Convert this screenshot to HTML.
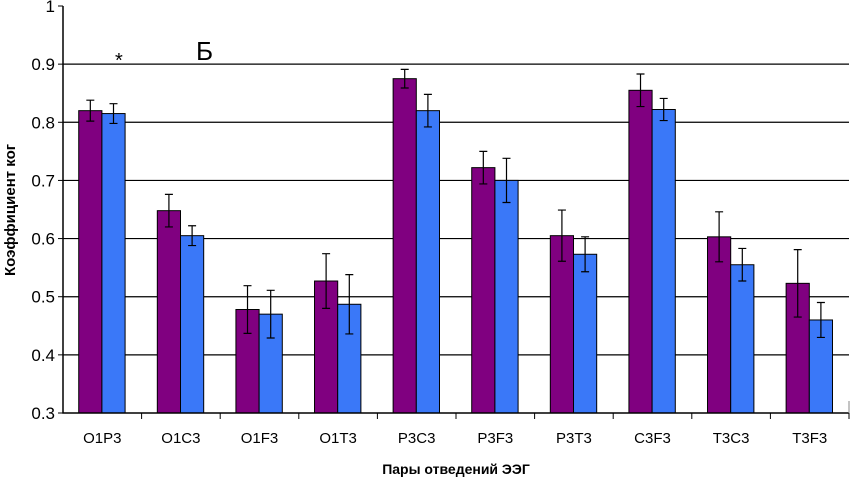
<!DOCTYPE html>
<html><head><meta charset="utf-8"><style>
html,body{margin:0;padding:0;background:#fff;}
svg text{font-family:"Liberation Sans",Arial,sans-serif;}
</style></head><body>
<svg id="chart" width="850" height="480" xmlns="http://www.w3.org/2000/svg"></svg>
<script>
const categories=["O1P3","O1C3","O1F3","O1T3","P3C3","P3F3","P3T3","C3F3","T3C3","T3F3"];
const series1=[0.820,0.648,0.478,0.527,0.875,0.722,0.605,0.855,0.603,0.523];
const series2=[0.815,0.605,0.470,0.487,0.820,0.700,0.573,0.822,0.555,0.460];
const err1=[0.018,0.028,0.041,0.047,0.016,0.028,0.044,0.028,0.043,0.058];
const err2=[0.017,0.017,0.041,0.051,0.028,0.038,0.030,0.019,0.028,0.030];
const yTicks=["0.3","0.4","0.5","0.6","0.7","0.8","0.9","1"];
const NS="http://www.w3.org/2000/svg";
const svg=document.getElementById('chart');
const X0=63,X1=849,Y0=413,Y1=6,YMIN=0.3,YMAX=1.0;
const bw=(X1-X0)/categories.length;
function y(v){return Y0-(v-YMIN)/(YMAX-YMIN)*(Y0-Y1);}
function mk(tag,attrs){const e=document.createElementNS(NS,tag);for(const k in attrs)e.setAttribute(k,attrs[k]);svg.appendChild(e);return e;}
yTicks.forEach(t=>{
  const v=parseFloat(t),yy=y(v);
  if(v>YMIN&&v<YMAX){const g=mk('line',{x1:X0,x2:X1,y1:yy,y2:yy,stroke:'#000','stroke-width':1.2});
  
  }
  const tk=mk('line',{x1:X0-5,x2:X0,y1:yy,y2:yy,stroke:'#000'});
  
  
  const tx=mk('text',{x:X0-8,y:yy+6,'text-anchor':'end','font-size':17,fill:'#000'});tx.textContent=t;
  
  
});
function bar(i,v,e,off,color,name){
  const w=bw*0.295;const x=X0+i*bw+bw*0.2+off*w;
  const r=mk('rect',{x:x,y:y(v),width:w,height:Y0-y(v),fill:color,stroke:'#000','stroke-width':1});
  
  
  const cx=x+w/2;
  const eb=mk('path',{d:`M${cx} ${y(v+e)}V${y(v-e)}M${cx-4} ${y(v+e)}H${cx+4}M${cx-4} ${y(v-e)}H${cx+4}`,stroke:'#000','stroke-width':1.2,fill:'none'});
  
  
}
categories.forEach((c,i)=>{
  bar(i,series1[i],err1[i],0,'#800080','bar-purple');
  bar(i,series2[i],err2[i],1,'#3a78f8','bar-blue');
  const t=mk('line',{x1:X0+(i+1)*bw,x2:X0+(i+1)*bw,y1:Y0,y2:Y0+6,stroke:'#000'});
  
  
  const l=mk('text',{x:X0+(i+0.5)*bw,y:443,'text-anchor':'middle','font-size':15,fill:'#000'});l.textContent=c;
  
  
});
const ax=mk('path',{d:`M${X0} ${Y1}V${Y0}H${X1}`,stroke:'#000','stroke-width':1.5,fill:'none'});


const rl=mk('line',{x1:X1,x2:X1,y1:Y0-12,y2:Y0,stroke:'#888'});


const yt=mk('text',{x:0,y:0,transform:'translate(15,210) rotate(-90)','text-anchor':'middle','font-size':15,'font-weight':'bold'});yt.textContent='Коэффициент ког';


const xt=mk('text',{x:456,y:474,'text-anchor':'middle','font-size':14,'font-weight':'bold'});xt.textContent='Пары отведений ЭЭГ';


const pl=mk('text',{x:196,y:60,'font-size':26});pl.textContent='Б';


const st=mk('text',{x:115,y:67,'font-size':20});st.textContent='*';


</script>
</body></html>
